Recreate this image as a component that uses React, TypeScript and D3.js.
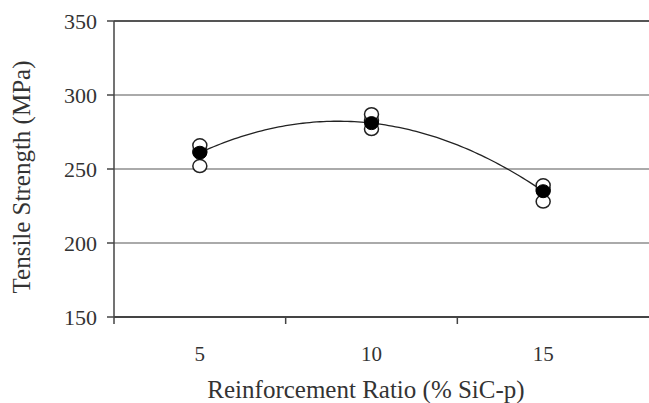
import React, { useEffect } from 'react'
import * as d3 from 'd3'

// SiC-p reinforcement ratio (%) categories
const ratios = [5, 10, 15]
// individual test specimens (open circles), one list per category
const specimens5 = [252, 262, 266]
const specimens10 = [277, 283, 287]
const specimens15 = [228, 236, 239]
// average tensile strength (filled circles)
const averages = [261, 281, 235]
const yTicks = [150, 200, 250, 300, 350]

const W = 649
const H = 403
const left = 114
const top = 21
const bottom = 317
const plotRight = 629
const FONT = "'Liberation Serif', 'Times New Roman', Times, serif"

// least-squares quadratic (Excel-style polynomial trendline)
function quadFit(xs: number[], ys: number[]) {
  const n = xs.length
  let s = [0, 0, 0, 0, 0]
  let t = [0, 0, 0]
  for (let i = 0; i < n; i++) {
    for (let k = 0; k < 5; k++) s[k] += Math.pow(xs[i], k)
    for (let k = 0; k < 3; k++) t[k] += ys[i] * Math.pow(xs[i], k)
  }
  const A = [
    [s[0], s[1], s[2], t[0]],
    [s[1], s[2], s[3], t[1]],
    [s[2], s[3], s[4], t[2]],
  ]
  for (let c = 0; c < 3; c++) {
    for (let r = c + 1; r < 3; r++) {
      const f = A[r][c] / A[c][c]
      for (let k = c; k < 4; k++) A[r][k] -= f * A[c][k]
    }
  }
  const coef = [0, 0, 0]
  for (let r = 2; r >= 0; r--) {
    let v = A[r][3]
    for (let k = r + 1; k < 3; k++) v -= A[r][k] * coef[k]
    coef[r] = v / A[r][r]
  }
  return (x: number) => coef[0] + coef[1] * x + coef[2] * x * x
}

export default function App() {
  useEffect(() => {
    document.body.style.margin = '0'
  }, [])

  const x = d3.scaleBand<number>().domain(ratios).range([left, plotRight])
  const y = d3.scaleLinear().domain([150, 350]).range([bottom, top])
  const cx = (r: number) => (x(r) as number) + x.bandwidth() / 2
  const xLin = d3
    .scaleLinear()
    .domain([ratios[0], ratios[ratios.length - 1]])
    .range([cx(ratios[0]), cx(ratios[ratios.length - 1])])

  const specimens = [specimens5, specimens10, specimens15]
  const fit = quadFit(ratios, averages)
  const samples = d3.range(ratios[0], ratios[ratios.length - 1] + 0.001, 0.1)
  const trend = d3
    .line<number>()
    .x((d) => xLin(d))
    .y((d) => y(fit(d)))(samples)

  const bandEdges = ratios.slice(1).map((r) => x(r) as number)
  const txt = { fontFamily: FONT, fill: '#333' }

  return (
    <svg width={W} height={H} style={{ position: 'fixed', left: 0, top: 0, background: '#fff' }}>
      {/* grid lines */}
      {yTicks.slice(1, -1).map((t) => (
        <line key={t} x1={left} x2={W} y1={y(t)} y2={y(t)} stroke="#aaa" strokeWidth={2} />
      ))}
      {/* top border */}
      <line x1={left} x2={W} y1={y(350)} y2={y(350)} stroke="#555" strokeWidth={2} />
      {/* y axis */}
      <line x1={left} x2={left} y1={top} y2={bottom + 7} stroke="#444" strokeWidth={1.5} />
      {yTicks.map((t) => (
        <g key={t}>
          <line x1={left - 7} x2={left} y1={y(t)} y2={y(t)} stroke="#444" strokeWidth={1.5} />
          <text x={left - 17} y={y(t)} textAnchor="end" dominantBaseline="central" fontSize={22} {...txt}>
            {t}
          </text>
        </g>
      ))}
      {/* x axis */}
      <line x1={left} x2={W} y1={bottom} y2={bottom} stroke="#444" strokeWidth={2} />
      {bandEdges.map((e) => (
        <line key={e} x1={e} x2={e} y1={bottom} y2={bottom + 7} stroke="#444" strokeWidth={1.5} />
      ))}
      {ratios.map((r) => (
        <text key={r} x={cx(r)} y={361} textAnchor="middle" fontSize={21} {...txt}>
          {r}
        </text>
      ))}
      <text x={366} y={398} textAnchor="middle" fontSize={25} {...txt}>
        Reinforcement Ratio (% SiC-p)
      </text>
      <text transform="translate(30,177) rotate(-90)" textAnchor="middle" fontSize={25} {...txt}>
        Tensile Strength (MPa)
      </text>
      {/* trendline */}
      <path d={trend ?? ''} fill="none" stroke="#222" strokeWidth={1.3} />
      {/* specimens */}
      {specimens.map((vals, i) =>
        vals.map((v, j) => (
          <ellipse
            key={`${i}-${j}`}
            cx={cx(ratios[i])}
            cy={y(v)}
            rx={7}
            ry={6.5}
            fill="#fff"
            stroke="#222"
            strokeWidth={1.5}
          />
        ))
      )}
      {averages.map((v, i) => (
        <ellipse key={i} cx={cx(ratios[i])} cy={y(v)} rx={7} ry={6.5} fill="#000" stroke="#000" strokeWidth={1} />
      ))}
    </svg>
  )
}
